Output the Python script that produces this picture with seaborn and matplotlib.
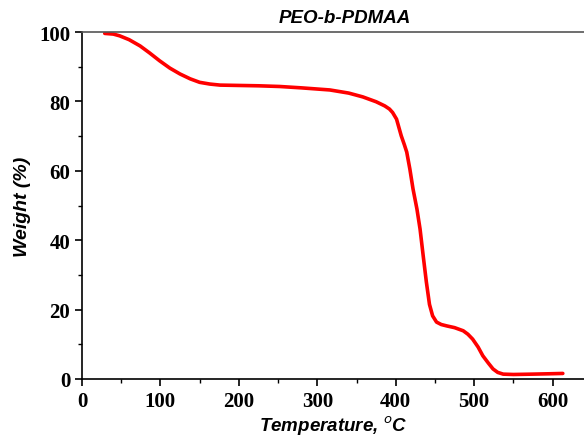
import matplotlib
matplotlib.use('Agg')
import matplotlib.pyplot as plt
import seaborn as sns
import pandas as pd
from matplotlib.ticker import MultipleLocator

# TGA curve
temperature = [29, 40, 48, 60, 74, 86, 99, 112, 125, 138, 150, 163, 176, 200,
               225, 252, 280, 316, 340, 358, 375, 386, 392, 396, 401, 407,
               411, 414, 418, 422, 427, 431, 435, 439, 443, 447, 452, 458,
               465, 475, 486, 492, 498, 505, 511, 518, 524, 530, 537, 550,
               574, 595, 613]
weight = [99.6, 99.4, 98.9, 97.8, 96.0, 94.0, 91.7, 89.6, 87.9, 86.5, 85.5,
          85.0, 84.7, 84.6, 84.5, 84.3, 83.9, 83.3, 82.4, 81.3, 79.9, 78.7,
          77.8, 76.8, 74.9, 70.1, 67.5, 65.4, 60.5, 54.8, 49.0, 43.2, 35.5,
          28.0, 21.5, 18.2, 16.4, 15.7, 15.3, 14.8, 13.9, 12.9, 11.5, 9.2,
          6.7, 4.6, 2.9, 1.9, 1.4, 1.3, 1.4, 1.5, 1.6]

title = 'PEO-b-PDMAA'
x_label = 'Temperature, $^{o}$C'
y_label = 'Weight (%)'

df = pd.DataFrame({'Temperature': temperature, 'Weight': weight})

sns.set_style('ticks')

fig = plt.figure(figsize=(5.84, 4.39), dpi=100)
ax = fig.add_axes([0.1404, 0.1344, 0.8596, 0.7904])

sns.lineplot(data=df, x='Temperature', y='Weight', color='#ff0000',
             linewidth=2.6, ax=ax)

ax.set_xlim(0, 640)
ax.set_ylim(0, 100)
ax.xaxis.set_major_locator(MultipleLocator(100))
ax.xaxis.set_minor_locator(MultipleLocator(50))
ax.yaxis.set_major_locator(MultipleLocator(20))
ax.yaxis.set_minor_locator(MultipleLocator(10))
ax.tick_params(which='major', direction='out', length=5, width=1.2,
               color='black', labelcolor='black')
ax.tick_params(which='minor', direction='out', length=3, width=1.0, color='black')

for lbl in ax.get_xticklabels() + ax.get_yticklabels():
    lbl.set_fontfamily('Liberation Serif')
    lbl.set_fontweight('bold')
    lbl.set_fontsize(15)

ax.set_xlabel(x_label, fontfamily='Liberation Sans', fontstyle='italic',
              fontweight='bold', fontsize=13.5, color='black')
ax.xaxis.set_label_coords(0.5, -0.1)
ax.set_ylabel(y_label, fontfamily='Liberation Sans', fontstyle='italic',
              fontweight='bold', fontsize=14, color='black', labelpad=6)
ax.text(0.524, 1.017, title, transform=ax.transAxes, ha='center', va='bottom',
        fontfamily='Liberation Sans', fontstyle='italic', fontweight='bold',
        fontsize=13.5, color='black')

ax.spines['right'].set_visible(False)
ax.spines['left'].set_color('black')
ax.spines['left'].set_linewidth(1.2)
ax.spines['bottom'].set_color('black')
ax.spines['bottom'].set_linewidth(1.2)
ax.spines['top'].set_color('#555555')
ax.spines['top'].set_linewidth(1.2)

fig.savefig('out.png', dpi=100)
plt.close(fig)
